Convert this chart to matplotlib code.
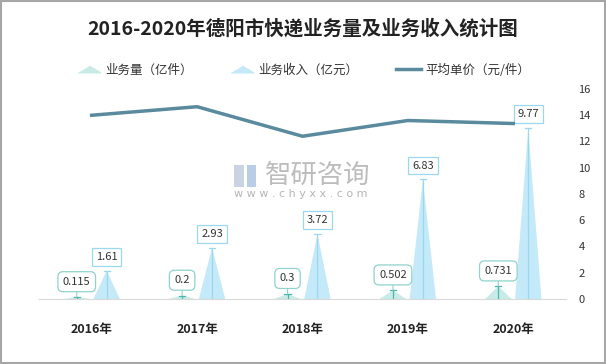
import matplotlib.pyplot as plt
import numpy as np
from matplotlib.patches import Rectangle
from matplotlib.lines import Line2D

plt.rcParams['font.family'] = ['Noto Sans CJK SC', 'DejaVu Sans']

years = ['2016年', '2017年', '2018年', '2019年', '2020年']
volume = [0.115, 0.2, 0.3, 0.502, 0.731]      # 业务量（亿件）
income = [1.61, 2.93, 3.72, 6.83, 9.77]       # 业务收入（亿元）
unit_price = [14.0, 14.65, 12.4, 13.6, 13.37]  # 平均单价（元/件）

vol_fill = '#c8ebe7'
vol_edge = '#4db6ab'
inc_fill = '#c4e9f8'
inc_edge = '#9ad8ef'
line_color = '#5a8a9e'

fig = plt.figure(figsize=(6.06, 3.64), dpi=100)
ax = fig.add_axes([39 / 606, 1 - 299 / 364, 527 / 606, 210 / 364])
ax2 = ax.twinx()

x = np.arange(len(years))
off = 0.142
hw = 0.125

# triangles (pyramid style bars) on hidden left axis 0-12
for i in range(len(years)):
    xv = x[i] - off
    ax.fill([xv - hw, xv, xv + hw], [0, volume[i], 0], color=vol_fill, lw=0, zorder=2)
    ax.plot([xv, xv], [0, volume[i]], color=vol_edge, lw=0.9, zorder=3)
    ax.plot([xv - 0.03, xv + 0.03], [volume[i], volume[i]], color=vol_edge, lw=0.9, zorder=3)
    ax.annotate(str(volume[i]), xy=(xv, volume[i]), xytext=(0, 11), textcoords='offset points',
                ha='center', va='center', fontsize=8, color='#333333',
                bbox=dict(boxstyle='round,pad=0.45,rounding_size=0.45', fc='white', ec='#8fd3cc', lw=0.9),
                arrowprops=dict(arrowstyle='-', color='#8fd3cc', lw=0.8, shrinkA=0, shrinkB=0),
                zorder=5)

    xi = x[i] + off
    ax.fill([xi - hw, xi, xi + hw], [0, income[i], 0], color=inc_fill, lw=0, zorder=2)
    ax.plot([xi, xi], [0, income[i]], color=inc_edge, lw=0.9, zorder=3)
    ax.plot([xi - 0.03, xi + 0.03], [income[i], income[i]], color=inc_edge, lw=0.9, zorder=3)
    ax.annotate(str(income[i]), xy=(xi, income[i]), xytext=(0, 10), textcoords='offset points',
                ha='center', va='center', fontsize=8, color='#333333',
                bbox=dict(boxstyle='square,pad=0.35', fc='white', ec=inc_edge, lw=0.9),
                zorder=5)

ax.set_ylim(0, 12)
ax.set_xlim(-0.5, len(years) - 0.5)
ax.set_xticks(x)
ax.set_xticklabels(years, fontsize=9, fontweight='bold', color='#222222')
ax.tick_params(axis='x', length=0, pad=17)
ax.set_yticks([])
for s in ['top', 'left', 'right']:
    ax.spines[s].set_visible(False)
ax.spines['bottom'].set_color('#d9d9d9')

ax2.plot(x, unit_price, color=line_color, lw=2.5, zorder=4)
ax2.set_ylim(0, 16)
ax2.set_yticks(range(0, 17, 2))
ax2.tick_params(axis='y', length=0, labelsize=8, labelcolor='#333333', pad=9)
for s in ['top', 'left', 'right', 'bottom']:
    ax2.spines[s].set_visible(False)
ax2.set_zorder(ax.get_zorder() + 1)
ax2.patch.set_visible(False)

# watermark
fig.text(318 / 606, 1 - 175 / 364, '智研咨询', fontsize=19, color='#b5b5b5', ha='center', va='center', alpha=0.9)
fig.text(301 / 606, 1 - 194 / 364, 'w w w . c h y x x . c o m', fontsize=8, color='#b5b5b5',
         ha='center', va='center', family='DejaVu Sans')
fig.patches.append(Rectangle((234 / 606, 1 - 187 / 364), 10 / 606, 22 / 364, transform=fig.transFigure,
                             fc='#c9d3e3', ec='none'))
fig.patches.append(Rectangle((247 / 606, 1 - 187 / 364), 9 / 606, 22 / 364, transform=fig.transFigure,
                             fc='#b9cde6', ec='none'))

fig.suptitle('2016-2020年德阳市快递业务量及业务收入统计图', x=0.5, y=1 - 29 / 364, va='center',
             fontsize=14, fontweight='bold', color='#222222')

flat_tri = [(-1, -0.3), (1, -0.3), (0, 0.3)]
handles = [
    Line2D([], [], marker=flat_tri, ls='none', color=vol_fill, markersize=16),
    Line2D([], [], marker=flat_tri, ls='none', color=inc_fill, markersize=16),
    Line2D([], [], color=line_color, lw=2.5),
]
labels = ['业务量（亿件）', '业务收入（亿元）', '平均单价（元/件）']
fig.legend(handles, labels, loc='center', bbox_to_anchor=(0.5, 1 - 70 / 364), ncol=3, frameon=False,
           fontsize=9, columnspacing=3.0, handlelength=2, handletextpad=0.3, labelcolor='#333333')

fig.patches.append(Rectangle((0.001, 0.002), 0.997, 0.995, transform=fig.transFigure,
                             fc='none', ec='#a6a6a6', lw=1.5))

fig.savefig('out.png', dpi=100)
